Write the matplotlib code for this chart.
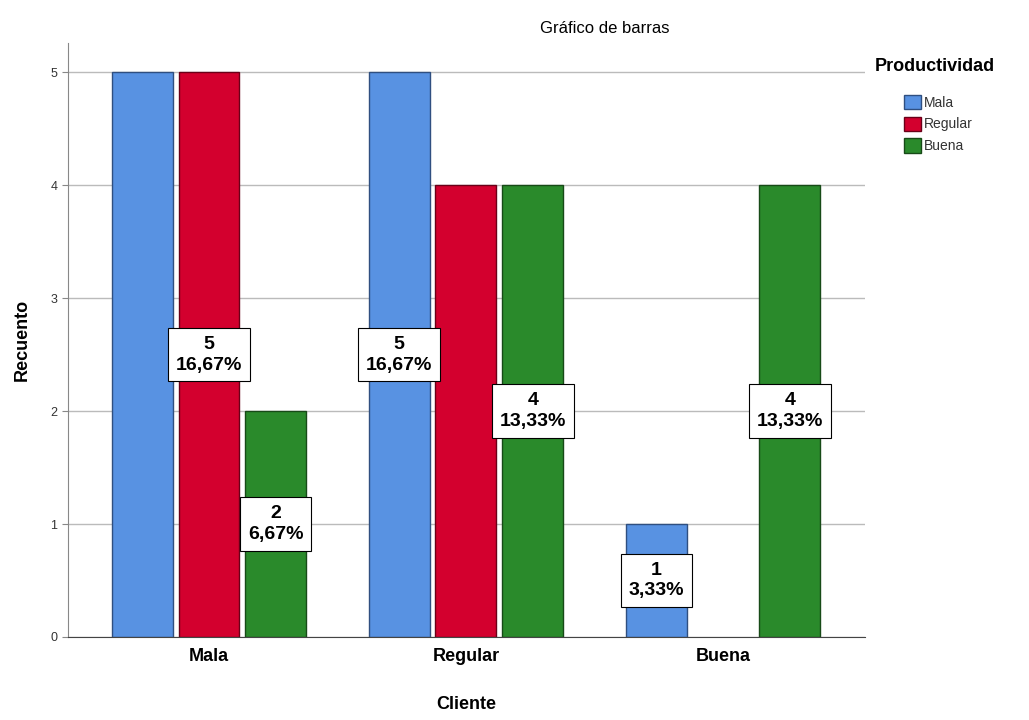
import matplotlib.pyplot as plt
import numpy as np

plt.rcParams['font.family'] = ['Liberation Sans', 'DejaVu Sans']

# datos
clientes = ["Mala", "Regular", "Buena"]
productividad = ["Mala", "Regular", "Buena"]
recuento_mala = [5, 5, 1]      # Productividad = Mala, por cliente
recuento_regular = [5, 4, 0]   # Productividad = Regular
recuento_buena = [2, 4, 4]     # Productividad = Buena
total = 30
# etiquetas visibles (cliente, productividad)
etiquetas = [(0, 1), (0, 2), (1, 0), (1, 2), (2, 0), (2, 2)]

colores = ["#5892E2", "#D3002E", "#2A8A2B"]
bordes = ["#2F4F80", "#6A0018", "#174A17"]

series = [recuento_mala, recuento_regular, recuento_buena]

fig = plt.figure(figsize=(10.29, 7.2), dpi=100)
ax = fig.add_axes([0.066, 0.1153, 0.7746, 0.8247])

x = np.arange(len(clientes))
ancho = 0.237
paso = 0.26
for i, vals in enumerate(series):
    lw = [1 if v > 0 else 0 for v in vals]
    ax.bar(x + (i - 1) * paso, vals, width=ancho, color=colores[i],
           edgecolor=bordes[i], linewidth=lw, label=productividad[i], zorder=2)

for c, p in etiquetas:
    v = series[p][c]
    pct = f"{v / total * 100:.2f}".replace(".", ",") + "%"
    ax.text(x[c] + (p - 1) * paso, v / 2, f"{v}\n{pct}", ha="center", va="center",
            fontsize=14, fontweight="bold", linespacing=1.3, zorder=4,
            bbox=dict(boxstyle="square,pad=0.4", fc="white", ec="black", lw=0.8))

ax.set_xlim(-0.549, 2.553)
ax.set_ylim(0, 5.257)
ax.set_yticks(range(6))
ax.yaxis.grid(True, color="#BBBBBB", linewidth=1, zorder=0)
ax.set_axisbelow(True)
ax.set_xticks(x)
ax.set_xticklabels(clientes, fontsize=13, fontweight="bold")
ax.tick_params(axis="x", length=0, pad=8)
ax.tick_params(axis="y", length=4, labelsize=9, colors="#888888", labelcolor="#333333")
ax.spines["top"].set_visible(False)
ax.spines["right"].set_visible(False)
ax.spines["left"].set_color("#888888")
ax.spines["bottom"].set_color("#444444")

ax.set_ylabel("Recuento", fontsize=13, fontweight="bold", labelpad=14)
ax.set_xlabel("Cliente", fontsize=13, fontweight="bold", labelpad=22)
fig.text(0.588, 0.96, "Gráfico de barras", ha="center", va="center", fontsize=12)

fig.text(0.850, 0.908, "Productividad", ha="left", va="center", fontsize=13, fontweight="bold")
leg = ax.legend(loc="upper left", bbox_to_anchor=(0.872, 0.878), bbox_transform=fig.transFigure,
                frameon=False, fontsize=10, handlelength=1.2, handleheight=1.2,
                handletextpad=0.2, labelspacing=0.5, borderpad=0)
for t in leg.get_texts():
    t.set_color("#333333")

fig.savefig("out.png", dpi=100)
